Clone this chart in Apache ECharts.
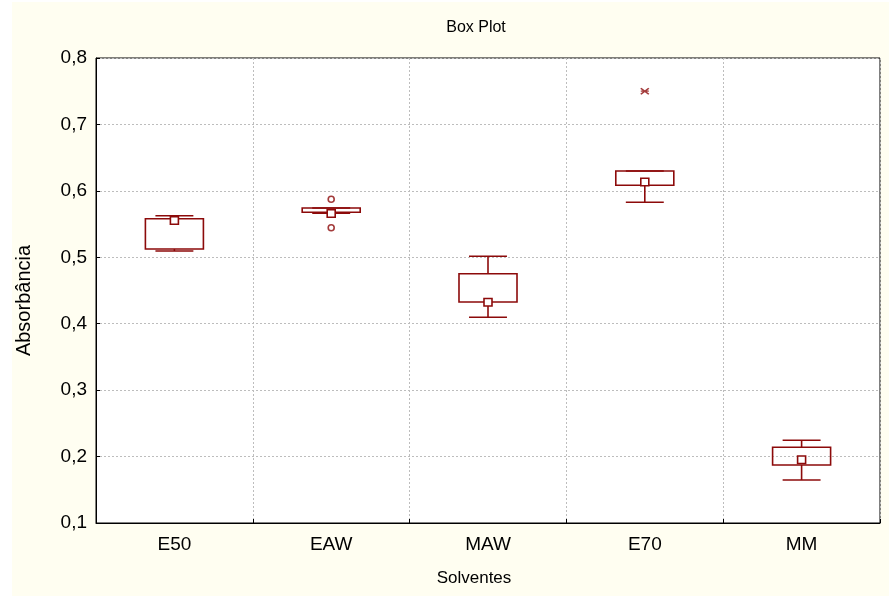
<!DOCTYPE html>
<html>
<head>
<meta charset="utf-8">
<script src="https://cdn.jsdelivr.net/npm/echarts@6/dist/echarts.min.js"></script>
<style>
  html, body { margin: 0; padding: 0; background: #ffffff; }
  #paper { position: absolute; left: 12px; top: 2px; right: 0; bottom: 0; background: #fffef1; }
  #chart { position: absolute; left: 0; top: 0; width: 889px; height: 596px; }
</style>
</head>
<body>
<div id="paper"></div>
<div id="chart"></div>
<script>
// Absorbance by solvent: median, quartile box, non-outlier whisker range
const categories  = ['E50', 'EAW', 'MAW', 'E70', 'MM'];
const whiskerLow  = [0.5095, 0.5662, 0.4097, 0.5828, 0.1648];
const quartile1   = [0.5125, 0.5677, 0.4327, 0.6084, 0.1873];
const medians     = [0.5554, 0.5659, 0.4323, 0.6133, 0.1952];
const quartile3   = [0.5581, 0.5742, 0.4753, 0.6299, 0.2140];
const whiskerHigh = [0.5626, 0.5742, 0.5015, 0.6299, 0.2245];

// Points outside the whisker range
const outlierCats = ['EAW', 'EAW'];
const outlierVals = [0.5873, 0.5445];
const extremeCats = ['E70'];
const extremeVals = [0.750];

// Value axis ticks
const yMin = 0.1, yMax = 0.8, yStep = 0.1;

const RED = '#8c0a0a';
const FONT = '"Liberation Sans Narrow", "Arial Narrow", "Liberation Sans", Arial, sans-serif';

const boxRows = categories.map((c, i) =>
  [i, whiskerLow[i], quartile1[i], medians[i], quartile3[i], whiskerHigh[i]]);

function renderBox(params, api) {
  const x = api.value(0);
  const band = api.size([1, 0])[0];
  const boxW = band * 0.37, capW = band * 0.242;
  const pLo = api.coord([x, api.value(1)]);
  const pQ1 = api.coord([x, api.value(2)]);
  const pMd = api.coord([x, api.value(3)]);
  const pQ3 = api.coord([x, api.value(4)]);
  const pHi = api.coord([x, api.value(5)]);
  const cx = pMd[0];
  const line = (x1, y1, x2, y2) => ({
    type: 'line', shape: { x1, y1, x2, y2 },
    style: { stroke: RED, lineWidth: 1.6 }
  });
  return {
    type: 'group',
    children: [
      line(cx, pHi[1], cx, pQ3[1]),
      line(cx, pQ1[1], cx, pLo[1]),
      line(cx - capW / 2, pHi[1], cx + capW / 2, pHi[1]),
      line(cx - capW / 2, pLo[1], cx + capW / 2, pLo[1]),
      {
        type: 'rect',
        shape: { x: cx - boxW / 2, y: pQ3[1], width: boxW, height: pQ1[1] - pQ3[1] },
        style: { fill: 'none', stroke: RED, lineWidth: 1.6 }
      },
      {
        type: 'rect',
        shape: { x: cx - 4, y: pMd[1] - 3.8, width: 8, height: 7.6 },
        style: { fill: '#ffffff', stroke: RED, lineWidth: 1.6 }
      }
    ]
  };
}

const chart = echarts.init(document.getElementById('chart'), null, { renderer: 'canvas' });
chart.setOption({
  backgroundColor: 'transparent',
  animation: false,
  title: {
    text: 'Box Plot',
    left: 471, top: 15, textAlign: 'center',
    textStyle: { fontFamily: FONT, fontSize: 16, fontWeight: 'normal', color: '#000' }
  },
  grid: {
    left: 96, right: 9, top: 58, bottom: 73,
    outerBoundsMode: 'none', containLabel: false,
    show: true, backgroundColor: '#ffffff', borderColor: '#000', borderWidth: 1
  },
  xAxis: {
    type: 'category',
    data: categories,
    boundaryGap: true,
    name: 'Solventes',
    nameLocation: 'middle',
    nameGap: 47,
    nameTextStyle: { fontFamily: FONT, fontSize: 17, color: '#000', padding: [0, 28, 0, 0] },
    axisLine: { show: true, lineStyle: { color: '#000', width: 1 } },
    axisTick: { show: true, inside: true, length: 4, lineStyle: { color: '#000' } },
    axisLabel: { fontFamily: FONT, fontSize: 19, color: '#000', margin: 12 },
    splitLine: { show: true, lineStyle: { color: '#bdbdbd', type: [2, 2], width: 1 } }
  },
  yAxis: {
    type: 'value',
    min: yMin, max: yMax, interval: yStep,
    name: 'Absorbância',
    nameLocation: 'middle',
    nameGap: 62,
    nameTextStyle: { fontFamily: FONT, fontSize: 20, color: '#000', padding: [0, 20, 0, 0] },
    axisLine: { show: true, lineStyle: { color: '#000', width: 1 } },
    axisTick: { show: true, inside: true, length: 4, lineStyle: { color: '#000' } },
    axisLabel: {
      fontFamily: FONT, fontSize: 19, color: '#000', margin: 9,
      formatter: v => v.toFixed(1).replace('.', ',')
    },
    splitLine: { show: true, lineStyle: { color: '#bdbdbd', type: [2, 2], width: 1 } }
  },
  series: [
    {
      type: 'custom',
      renderItem: renderBox,
      encode: { x: 0, y: [1, 2, 3, 4, 5] },
      data: boxRows,
      z: 3
    },
    {
      type: 'scatter',
      data: outlierCats.map((c, i) => [c, outlierVals[i]]),
      symbol: 'circle',
      symbolSize: [6, 6],
      itemStyle: { color: '#ffffff', borderColor: RED, borderWidth: 1.6 },
      z: 4
    },
    {
      type: 'scatter',
      data: extremeCats.map((c, i) => [c, extremeVals[i]]),
      symbol: 'path://M0,0L10,8M10,0L0,8M0,4L10,4',
      symbolSize: [8, 6],
      itemStyle: { color: 'none', borderColor: RED, borderWidth: 1.4 },
      z: 4
    }
  ]
});
</script>
</body>
</html>
